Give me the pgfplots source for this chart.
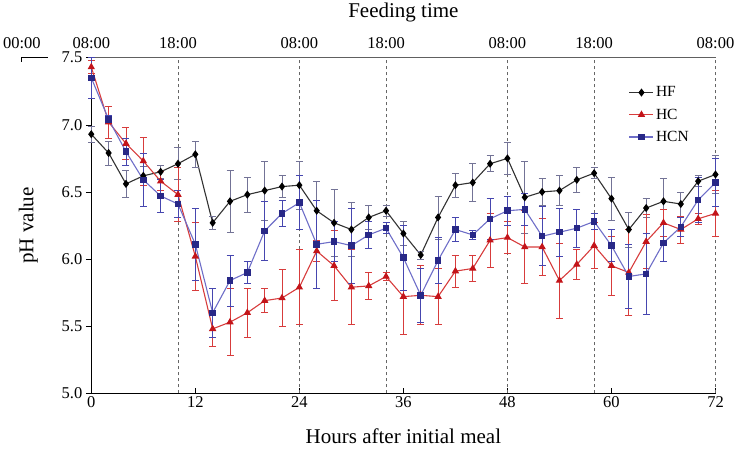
\documentclass[border=0pt]{standalone}
\usepackage{pgfplots}
\pgfplotsset{compat=1.18}
\usepackage{pgfplotstable}
\usepackage{fontspec}
\setmainfont{Liberation Serif}
\definecolor{hfline}{RGB}{50,50,50}
\definecolor{hfbar}{RGB}{115,115,150}
\definecolor{hcline}{RGB}{215,60,60}
\definecolor{hcmark}{RGB}{195,20,25}
\definecolor{hcnline}{RGB}{110,110,200}
\definecolor{hcnmark}{RGB}{40,40,135}
\definecolor{hcnbar}{RGB}{70,70,175}
\pgfplotstableread{
x y e
0 6.93 0.06
2 6.79 0.09
4 6.56 0.10
6 6.62 0.07
8 6.65 0.05
10 6.71 0.12
12 6.78 0.10
14 6.27 0.05
16 6.43 0.23
18 6.48 0.13
20 6.51 0.22
22 6.54 0.08
24 6.55 0.18
26 6.36 0.22
28 6.27 0.25
30 6.22 0.20
32 6.31 0.09
34 6.36 0.04
36 6.19 0.09
38 6.03 0.03
40 6.31 0.16
42 6.55 0.09
44 6.57 0.14
46 6.71 0.06
48 6.75 0.12
50 6.46 0.27
52 6.50 0.10
54 6.51 0.11
56 6.59 0.09
58 6.64 0.04
60 6.45 0.16
62 6.22 0.13
64 6.38 0.07
66 6.43 0.17
68 6.41 0.09
70 6.58 0.04
72 6.63 0.14
}\hf
\pgfplotstableread{
x y e
0 7.43 0.05
2 7.02 0.12
4 6.86 0.12
6 6.73 0.18
8 6.58 0.07
10 6.48 0.20
12 6.02 0.25
14 5.48 0.13
16 5.53 0.25
18 5.60 0.18
20 5.69 0.09
22 5.71 0.21
24 5.79 0.28
26 6.06 0.08
28 5.95 0.26
30 5.79 0.28
32 5.80 0.10
34 5.87 0.03
36 5.72 0.28
38 5.73 0.22
40 5.72 0.21
42 5.91 0.12
44 5.93 0.10
46 6.14 0.20
48 6.16 0.12
50 6.09 0.27
52 6.09 0.21
54 5.84 0.28
56 5.96 0.11
58 6.10 0.17
60 5.95 0.22
62 5.90 0.32
64 6.13 0.20
66 6.27 0.10
68 6.22 0.10
70 6.30 0.04
72 6.34 0.17
}\hc
\pgfplotstableread{
x y e
0 7.35 0.15
2 7.04 0.03
4 6.80 0.10
6 6.59 0.20
8 6.47 0.12
10 6.41 0.10
12 6.11 0.27
14 5.60 0.18
16 5.84 0.19
18 5.90 0.08
20 6.21 0.22
22 6.34 0.10
24 6.42 0.20
26 6.11 0.33
28 6.13 0.15
30 6.10 0.28
32 6.18 0.10
34 6.23 0.04
36 6.01 0.24
38 5.73 0.20
40 5.99 0.17
42 6.22 0.09
44 6.18 0.03
46 6.30 0.15
48 6.36 0.11
50 6.37 0.12
52 6.17 0.22
54 6.20 0.18
56 6.23 0.14
58 6.28 0.06
60 6.10 0.12
62 5.87 0.24
64 5.89 0.30
66 6.12 0.14
68 6.24 0.07
70 6.44 0.17
72 6.57 0.18
}\hcn
\begin{document}
\begin{tikzpicture}
\path[use as bounding box] (-91.3bp,-61.7bp) rectangle (645.7bp,393.3bp);
\begin{axis}[
  scale only axis,
  width=624.2bp, height=335.6bp,
  xmin=0, xmax=72, ymin=5, ymax=7.5,
  axis x line*=bottom, axis y line*=left,
  axis line style={line width=0.9pt, -},
  xtick={0,12,...,72}, ytick={5,5.5,...,7.5},
  major tick length=5.5bp,
  tick style={line width=0.6pt, black},
  xtick align=inside, ytick align=outside,
  yticklabel style={/pgf/number format/.cd, fixed, fixed zerofill, precision=1},
  /pgf/number format/assume math mode=true,
  tick label style={font=\fontsize{16.5bp}{18bp}\selectfont},
  xlabel={Hours after initial meal},
  ylabel={pH value},
  every axis x label/.style={at={(axis description cs:0.5,-0.127)}, anchor=center, font=\fontsize{21bp}{24bp}\selectfont},
  every axis y label/.style={at={(axis description cs:-0.101,0.5)}, anchor=center, rotate=90, font=\fontsize{21bp}{24bp}\selectfont},
  clip=false,
  legend style={at={(0.861,0.92)}, anchor=north west, draw=none, fill=none,
    font=\fontsize{15.5bp}{17bp}\selectfont, row sep=6.5bp, inner sep=0pt},
  legend cell align=left,
  legend image code/.code={\draw[mark repeat=2,mark phase=2] plot coordinates {(0bp,0bp) (12bp,0bp) (24bp,0bp)};},
]
% reference lines for feeding times
\foreach \xv in {10,24,34,48,58,72}{
  \edef\temp{\noexpand\draw[gray!80!black, line width=0.6pt, dash pattern=on 3.5bp off 2.5bp] (axis cs:\xv,5) -- (axis cs:\xv,7.5);}
  \temp
}
\draw[gray!75!black, line width=1.6pt] (axis cs:0,7.5) -- (axis cs:72,7.5);
\addplot[hfline, line width=1.1pt, mark=diamond*, mark size=3.2bp, mark options={black, fill=black},
  error bars/.cd, y dir=both, y explicit, error bar style={hfbar, line width=0.8pt},
  error mark options={hfbar, rotate=90, mark size=3.5bp, line width=0.8pt}]
  table[x=x, y=y, y error=e] {\hf};
\addlegendentry{HF}
\addplot[hcline, line width=1.1pt, mark=triangle*, mark size=3.2bp, mark options={hcmark, fill=hcmark},
  error bars/.cd, y dir=both, y explicit, error bar style={hcline, line width=0.8pt},
  error mark options={hcline, rotate=90, mark size=3.5bp, line width=0.8pt}]
  table[x=x, y=y, y error=e] {\hc};
\addlegendentry{HC}
\addplot[hcnline, line width=1.1pt, mark=square*, mark size=2.7bp, mark options={hcnmark, fill=hcnmark},
  error bars/.cd, y dir=both, y explicit, error bar style={hcnbar, line width=0.8pt},
  error mark options={hcnbar, rotate=90, mark size=3.5bp, line width=0.8pt}]
  table[x=x, y=y, y error=e] {\hcn};
\addlegendentry{HCN}
% top feeding-time labels
\foreach \xv/\lab in {-8/00:00, 0/08:00, 10/18:00, 24/08:00, 34/18:00, 48/08:00, 58/18:00, 72/08:00}{
  \edef\temp{\noexpand\node[anchor=base, inner sep=0pt, yshift=9.5bp, font=\noexpand\fontsize{16.5bp}{18bp}\noexpand\selectfont] at (axis cs:\xv,7.5) {\lab};}
  \temp
}
\draw[black, line width=0.8pt] (axis cs:-8.1,7.47) -- (axis cs:-8.1,7.5) -- (axis cs:-5.0,7.5);
\node[anchor=center, font=\fontsize{21bp}{24bp}\selectfont] at (axis description cs:0.5,1.136) {Feeding time};
\end{axis}
\end{tikzpicture}
\end{document}
